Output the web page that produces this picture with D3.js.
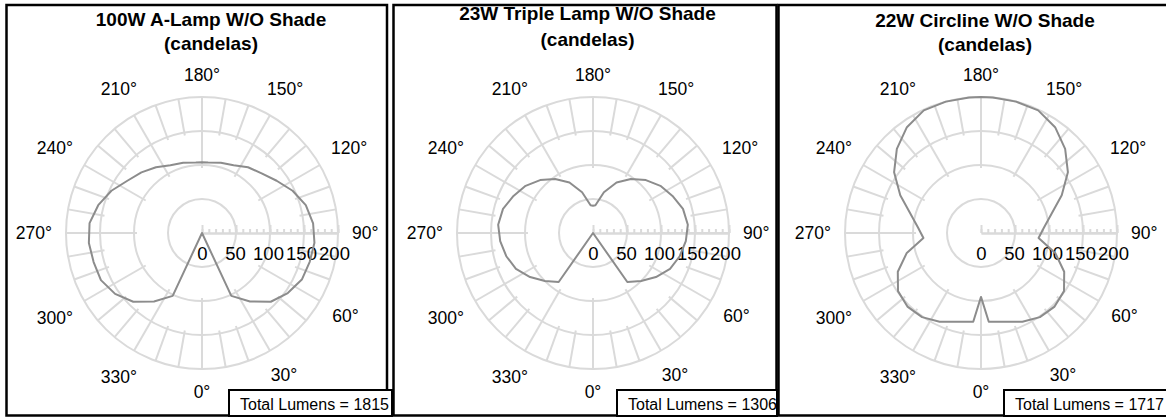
<!DOCTYPE html>
<html>
<head>
<meta charset="utf-8">
<script src="https://cdn.jsdelivr.net/npm/d3@7"></script>
<style>
  body { margin: 0; background: #fff; }
  svg { display: block; font-family: "Liberation Sans", Arial, sans-serif; }
</style>
</head>
<body>
<svg class="graph"></svg>
<script>
// chart data
const titles = ["100W A-Lamp W/O Shade", "23W Triple Lamp W/O Shade", "22W Circline W/O Shade"];
const totalLumens = [1815, 1306, 1717];
const angles = [0, 5, 15, 25, 35, 45, 55, 65, 75, 85, 95, 105, 115, 125, 135, 145, 155, 165, 175, 180,
  185, 195, 205, 215, 225, 235, 245, 255, 265, 275, 285, 295, 305, 315, 325, 335, 345, 355];
const aLamp = [0, 0, 0, 102, 123, 143, 154, 162, 164, 166, 164, 158, 147, 134, 124, 118, 110, 107, 104, 104,
  104, 107, 110, 118, 126, 134, 147, 158, 166, 167, 165, 164, 156, 143, 123, 102, 0, 0];
const tripleLamp = [0, 0, 0, 0, 88, 100, 113, 125, 132, 137, 140, 137, 129, 121, 110, 97, 82, 62, 41, 40,
  41, 62, 82, 97, 110, 121, 129, 137, 140, 137, 132, 125, 113, 100, 88, 0, 0, 0];
const circline = [94, 131, 135, 144, 151, 153, 149, 135, 113, 85, 93, 107, 131, 156, 175, 190, 199, 200, 200, 200,
  200, 200, 199, 190, 175, 156, 131, 107, 93, 85, 113, 135, 149, 153, 151, 144, 135, 131];
const angleLabels = [0, 30, 60, 90, 120, 150, 180, 210, 240, 270, 300, 330];
const ringValues = [50, 100, 150, 200];
const radialTicks = [0, 50, 100, 150, 200];

const series = [aLamp, tripleLamp, circline];

// layout of the three framed panels
const panels = [
  { fx: 6.5, fw: 380.5, cx: 202, tx: 211, t1: 26, t2: 50, bx: 229, bw: 163 },
  { fx: 393.5, fw: 383, cx: 593, tx: 587.5, t1: 20, t2: 46, bx: 617, bw: 160 },
  { fx: 778.5, fw: 392, cx: 981, tx: 985, t1: 27, t2: 51, bx: 1004, bw: 166 }
];
const cy = 233;
const width = 1166;
const height = 417;

const gridColor = "#dadada";
const lineColor = "#8c8c8c";

const svg = d3.select(".graph")
    .attr("width", width)
    .attr("height", height);

const r = d3.scaleLinear().domain([0, 200]).range([0, 136]);
const toRad = a => a * Math.PI / 180;
// 0 deg points down, angles run round through the right side
const px = (a, v) => Math.sin(toRad(a)) * v;
const py = (a, v) => Math.cos(toRad(a)) * v;

const line = d3.lineRadial()
    .angle(d => Math.PI - toRad(d.a))
    .radius(d => r(d.v))
    .curve(d3.curveLinearClosed);

panels.forEach((p, i) => {
  const g = svg.append("g");
  const polar = g.append("g").attr("transform", `translate(${p.cx}, ${cy})`);

  polar.selectAll("circle.ring")
    .data(ringValues)
    .enter()
    .append("circle")
      .attr("class", "ring")
      .attr("r", d => r(d))
      .attr("fill", "none")
      .attr("stroke", gridColor)
      .attr("stroke-width", 2);

  const spokes = d3.range(0, 360, 10).map(a => ({ a, major: a % 30 === 0 }));
  polar.selectAll("line.spoke")
    .data(spokes)
    .enter()
    .append("line")
      .attr("class", "spoke")
      .attr("x1", d => px(d.a, r(d.major ? 100 : 150) - 3))
      .attr("y1", d => py(d.a, r(d.major ? 100 : 150) - 3))
      .attr("x2", d => px(d.a, r(200)))
      .attr("y2", d => py(d.a, r(200)))
      .attr("stroke", gridColor)
      .attr("stroke-width", 2);

  // radial axis along 90 deg
  const minorAxis = polar.append("g")
    .call(d3.axisBottom(r).tickValues(d3.range(0, 201, 10)).tickSize(-4).tickSizeOuter(0).tickFormat(""));
  const majorAxis = polar.append("g")
    .call(d3.axisBottom(r).tickValues(radialTicks).tickSize(-8).tickSizeOuter(0).tickPadding(14));
  [minorAxis, majorAxis].forEach(ax => {
    ax.selectAll("path, line").attr("stroke", gridColor).attr("stroke-width", 2);
  });
  majorAxis.selectAll("text")
      .attr("fill", "#000")
      .attr("font-size", 18.5)
      .attr("font-family", "Liberation Sans, Arial, sans-serif")
      .attr("dx", d => -d / 50);

  polar.append("path")
    .datum(angles.map((a, k) => ({ a, v: series[i][k] })))
      .attr("d", line)
      .attr("fill", "none")
      .attr("stroke", lineColor)
      .attr("stroke-width", 2)
      .attr("stroke-linejoin", "round");

  // angle labels
  polar.selectAll("text.ang")
    .data(angleLabels)
    .enter()
    .append("text")
      .attr("class", "ang")
      .attr("font-size", 17.5)
      .attr("text-anchor", "middle")
      .text(d => d + "°")
      .each(function(d) {
        const w = this.getComputedTextLength();
        const s = Math.sin(toRad(d)), c = Math.cos(toRad(d));
        const rr = 150 + Math.abs(s) * w / 2 + Math.abs(c) * 8.5;
        d3.select(this).attr("x", s * rr).attr("y", c * rr + 6.3);
      });

  g.append("text")
      .attr("x", p.tx)
      .attr("y", p.t1)
      .attr("text-anchor", "middle")
      .attr("font-weight", "bold")
      .attr("font-size", 19)
      .text(titles[i]);
  g.append("text")
      .attr("x", p.tx)
      .attr("y", p.t2)
      .attr("text-anchor", "middle")
      .attr("font-weight", "bold")
      .attr("font-size", 19)
      .text("(candelas)");

  g.append("rect")
      .attr("x", p.fx)
      .attr("y", 5)
      .attr("width", p.fw)
      .attr("height", 410.5)
      .attr("fill", "none")
      .attr("stroke", "#000")
      .attr("stroke-width", 2.5);
});

// lumen boxes sit on top of the frames
panels.forEach((p, i) => {
  svg.append("rect")
      .attr("x", p.bx)
      .attr("y", 390)
      .attr("width", p.bw)
      .attr("height", 26)
      .attr("fill", "#fff")
      .attr("stroke", "#000")
      .attr("stroke-width", 2);
  svg.append("text")
      .attr("x", p.bx + 11)
      .attr("y", 410)
      .attr("font-size", 16)
      .text("Total Lumens = " + totalLumens[i]);
});
</script>
</body>
</html>
